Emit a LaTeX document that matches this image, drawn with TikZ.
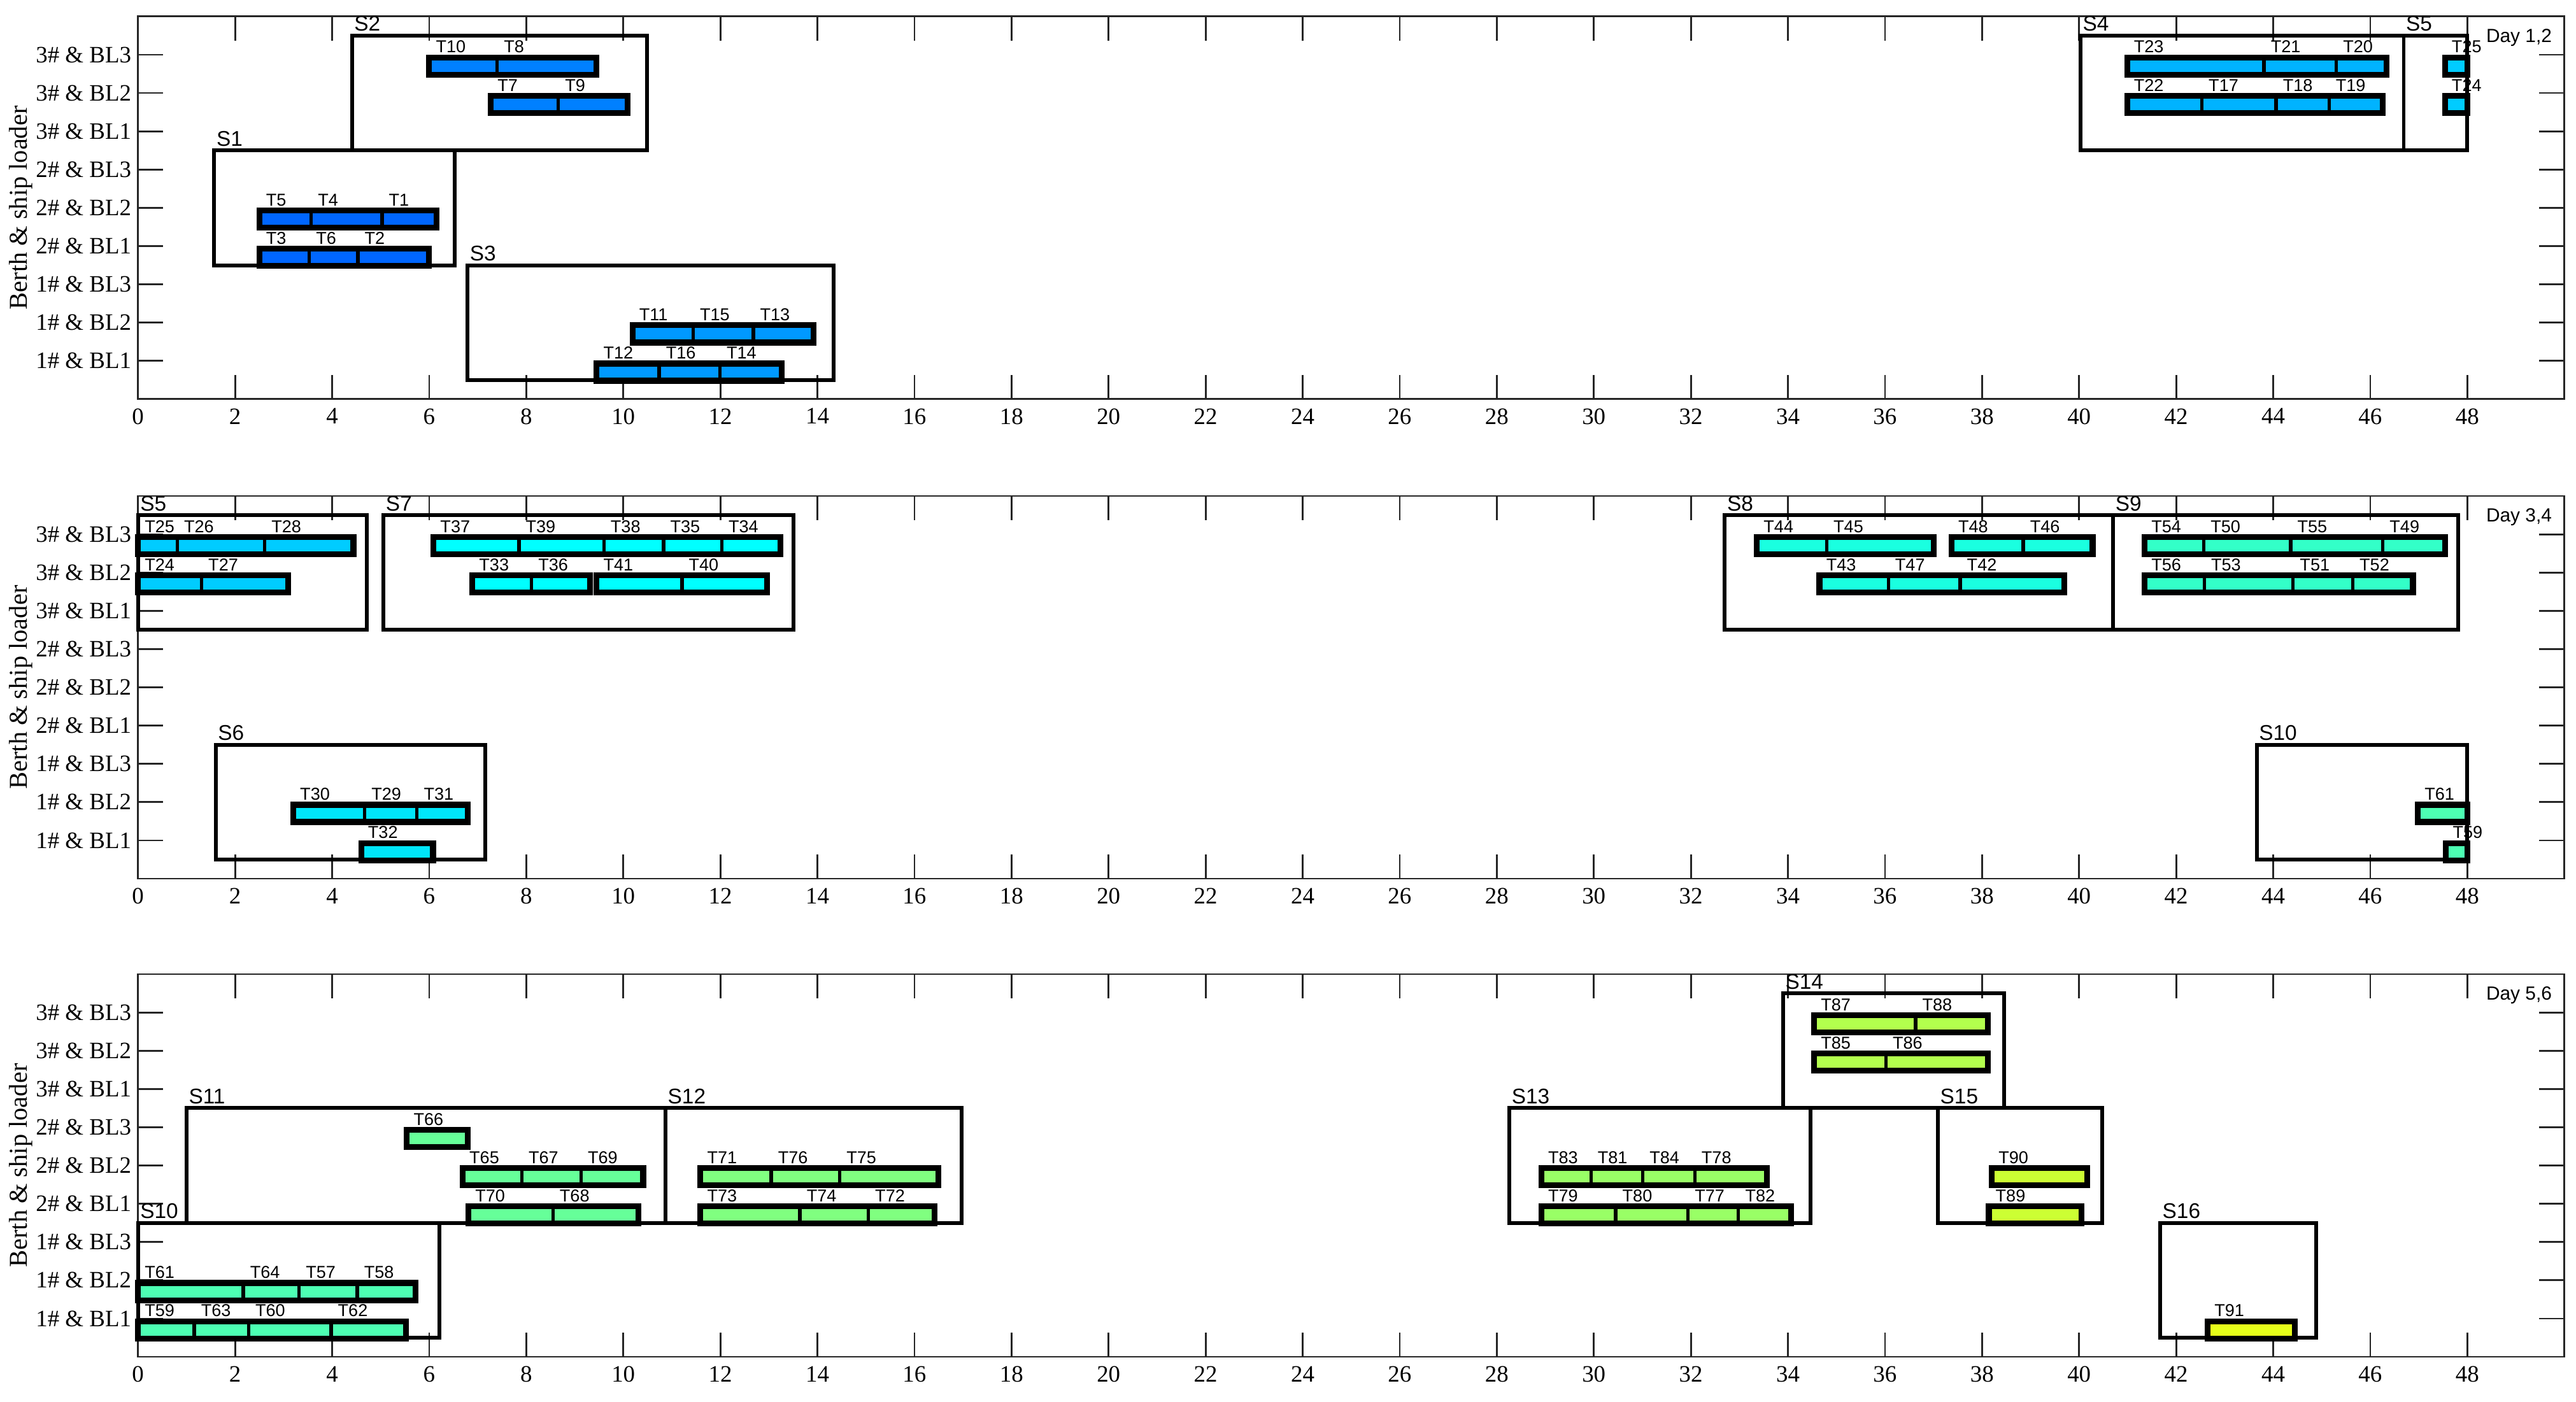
\documentclass[tikz,border=0pt]{standalone}
\usepackage{fontspec}
\setmainfont{Liberation Serif}
\newfontfamily\arialf{Liberation Sans}
\definecolor{cS1}{RGB}{0,102,255}
\definecolor{cS2}{RGB}{0,128,255}
\definecolor{cS3}{RGB}{0,153,255}
\definecolor{cS4}{RGB}{0,179,255}
\definecolor{cS5}{RGB}{0,204,255}
\definecolor{cS6}{RGB}{0,230,250}
\definecolor{cS7}{RGB}{0,255,255}
\definecolor{cS8}{RGB}{26,255,224}
\definecolor{cS9}{RGB}{51,255,200}
\definecolor{cS10}{RGB}{77,255,179}
\definecolor{cS11}{RGB}{102,255,153}
\definecolor{cS12}{RGB}{128,255,128}
\definecolor{cS13}{RGB}{153,255,102}
\definecolor{cS14}{RGB}{179,255,77}
\definecolor{cS15}{RGB}{204,255,51}
\definecolor{cS16}{RGB}{230,255,26}
\definecolor{axc}{RGB}{38,38,38}
\colorlet{cur}{cS1}
\newcommand\setc[1]{\colorlet{cur}{#1}}
\newcommand\tk[4]{\draw[task] (#1,{#3-0.52}) rectangle (#2,{#3-0.07}); \node[tlab] at (#1,#3) {#4};}
\newcommand\grp[3]{\draw[grp] (#1,{#3-0.52}) rectangle (#2,{#3-0.07});}
\newcommand\stg[5]{\draw[stage] (#1,#2) rectangle (#3,#4); \node[slab] at (#1,#4) {#5};}
\newcommand\pnlaxes[1]{%
  \draw[axl] (0,0) rectangle (50,10);
  \foreach \k in {0,2,...,48}{
    \draw[axl] (\k,0) -- (\k,0.63);
    \draw[axl] (\k,10) -- (\k,9.37);
    \node[xtl] at (\k,0) {\k};
  }
  \foreach \r/\t in {1/1\# \& BL1,2/1\# \& BL2,3/1\# \& BL3,4/2\# \& BL1,5/2\# \& BL2,6/2\# \& BL3,7/3\# \& BL1,8/3\# \& BL2,9/3\# \& BL3}{
    \draw[axl] (0,\r) -- (0.52,\r);
    \draw[axl] (50,\r) -- (49.48,\r);
    \node[ytl] at (0,\r) {\t};
  }
  \node[ylab] at (-2.42,5) {Berth \& ship loader};
  \node[dlab] at (49.75,9.33) {#1};
}
\tikzset{
  axl/.style={draw=axc,line width=0.8pt},
  task/.style={draw=black,line width=1.5pt,fill=cur},
  grp/.style={draw=black,line width=2.6pt},
  stage/.style={draw=black,line width=1.7pt},
  tlab/.style={anchor=base west,inner sep=0pt,xshift=0.1cm,yshift=0.03cm,font=\arialf\fontsize{7.7}{8}\selectfont},
  slab/.style={anchor=base west,inner sep=0pt,xshift=0.03cm,yshift=0.07cm,font=\arialf\fontsize{9.5}{10}\selectfont},
  dlab/.style={anchor=base east,inner sep=0pt,font=\arialf\fontsize{8.5}{9}\selectfont},
  xtl/.style={anchor=north,inner sep=0pt,yshift=-0.14cm,font=\fontsize{10.5}{11}\selectfont},
  ytl/.style={anchor=east,inner sep=0pt,xshift=-0.1cm,font=\fontsize{10.5}{11}\selectfont},
  ylab/.style={rotate=90,inner sep=0pt,font=\fontsize{11.5}{12}\selectfont},
}
\begin{document}
\begin{tikzpicture}
\useasboundingbox[fill=white] (0,0) rectangle (40.45,22.01);
% ---------------- Panel 1
\begin{scope}[shift={(2.167,15.741)},x=0.762cm,y=0.601cm]
\pnlaxes{Day 1,2}
\stg{1.57}{3.5}{6.52}{6.5}{S1}
\stg{4.41}{6.5}{10.49}{9.5}{S2}
\stg{6.79}{0.5}{14.33}{3.5}{S3}
\stg{40.03}{6.5}{46.69}{9.5}{S4}
\stg{46.69}{6.5}{48}{9.5}{S5}
\setc{cS1}
\tk{2.5}{3.57}{5}{T5}\tk{3.57}{5.03}{5}{T4}\tk{5.03}{6.15}{5}{T1}\grp{2.5}{6.15}{5}
\tk{2.5}{3.53}{4}{T3}\tk{3.53}{4.53}{4}{T6}\tk{4.53}{6.0}{4}{T2}\grp{2.5}{6.0}{4}
\setc{cS2}
\tk{6.0}{7.4}{9}{T10}\tk{7.4}{9.45}{9}{T8}\grp{6.0}{9.45}{9}
\tk{7.27}{8.66}{8}{T7}\tk{8.66}{10.09}{8}{T9}\grp{7.27}{10.09}{8}
\setc{cS3}
\tk{10.19}{11.44}{2}{T11}\tk{11.44}{12.68}{2}{T15}\tk{12.68}{13.92}{2}{T13}\grp{10.19}{13.92}{2}
\tk{9.45}{10.74}{1}{T12}\tk{10.74}{11.99}{1}{T16}\tk{11.99}{13.27}{1}{T14}\grp{9.45}{13.27}{1}
\setc{cS4}
\tk{40.99}{43.81}{9}{T23}\tk{43.81}{45.3}{9}{T21}\tk{45.3}{46.34}{9}{T20}\grp{40.99}{46.34}{9}
\tk{40.99}{42.53}{8}{T22}\tk{42.53}{44.06}{8}{T17}\tk{44.06}{45.15}{8}{T18}\tk{45.15}{46.26}{8}{T19}\grp{40.99}{46.26}{8}
\setc{cS5}
\tk{47.54}{48}{9}{T25}\grp{47.54}{48}{9}
\tk{47.54}{48}{8}{T24}\grp{47.54}{48}{8}
\end{scope}
% ---------------- Panel 2
\begin{scope}[shift={(2.167,8.21)},x=0.762cm,y=0.601cm]
\pnlaxes{Day 3,4}
\stg{0}{6.5}{4.71}{9.5}{S5}
\stg{5.06}{6.5}{13.51}{9.5}{S7}
\stg{1.60}{0.5}{7.15}{3.5}{S6}
\stg{32.70}{6.5}{40.70}{9.5}{S8}
\stg{40.70}{6.5}{47.81}{9.5}{S9}
\stg{43.66}{0.5}{48}{3.5}{S10}
\setc{cS5}
\tk{0}{0.81}{9}{T25}\tk{0.81}{2.61}{9}{T26}\tk{2.61}{4.44}{9}{T28}\grp{0}{4.44}{9}
\tk{0}{1.31}{8}{T24}\tk{1.31}{3.09}{8}{T27}\grp{0}{3.09}{8}
\setc{cS7}
\tk{6.09}{7.85}{9}{T37}\tk{7.85}{9.60}{9}{T39}\tk{9.60}{10.83}{9}{T38}\tk{10.83}{12.03}{9}{T35}\tk{12.03}{13.24}{9}{T34}\grp{6.09}{13.24}{9}
\tk{6.89}{8.11}{8}{T33}\tk{8.11}{9.32}{8}{T36}\grp{6.89}{9.32}{8}
\tk{9.45}{11.21}{8}{T41}\tk{11.21}{12.96}{8}{T40}\grp{9.45}{12.96}{8}
\setc{cS6}
\tk{3.20}{4.67}{2}{T30}\tk{4.67}{5.75}{2}{T29}\tk{5.75}{6.80}{2}{T31}\grp{3.20}{6.80}{2}
\tk{4.60}{6.08}{1}{T32}\grp{4.60}{6.08}{1}
\setc{cS8}
\tk{33.36}{34.80}{9}{T44}\tk{34.80}{37.0}{9}{T45}\grp{33.36}{37.0}{9}
\tk{37.37}{38.85}{9}{T48}\tk{38.85}{40.28}{9}{T46}\grp{37.37}{40.28}{9}
\tk{34.65}{36.07}{8}{T43}\tk{36.07}{37.55}{8}{T47}\tk{37.55}{39.69}{8}{T42}\grp{34.65}{39.69}{8}
\setc{cS9}
\tk{41.35}{42.57}{9}{T54}\tk{42.57}{44.36}{9}{T50}\tk{44.36}{46.26}{9}{T55}\tk{46.26}{47.54}{9}{T49}\grp{41.35}{47.54}{9}
\tk{41.35}{42.58}{8}{T56}\tk{42.58}{44.41}{8}{T53}\tk{44.41}{45.64}{8}{T51}\tk{45.64}{46.88}{8}{T52}\grp{41.35}{46.88}{8}
\setc{cS10}
\tk{46.98}{48}{2}{T61}\grp{46.98}{48}{2}
\tk{47.56}{48}{1}{T59}\grp{47.56}{48}{1}
\end{scope}
% ---------------- Panel 3
\begin{scope}[shift={(2.167,0.70)},x=0.762cm,y=0.601cm]
\pnlaxes{Day 5,6}
\stg{0}{0.5}{6.21}{3.5}{S10}
\stg{1.00}{3.5}{10.87}{6.5}{S11}
\stg{10.87}{3.5}{16.97}{6.5}{S12}
\stg{28.26}{3.5}{34.46}{6.5}{S13}
\stg{33.90}{6.5}{38.46}{9.5}{S14}
\stg{37.09}{3.5}{40.48}{6.5}{S15}
\stg{41.67}{0.5}{44.89}{3.5}{S16}
\setc{cS10}
\tk{0}{2.17}{2}{T61}\tk{2.17}{3.32}{2}{T64}\tk{3.32}{4.52}{2}{T57}\tk{4.52}{5.72}{2}{T58}\grp{0}{5.72}{2}
\tk{0}{1.16}{1}{T59}\tk{1.16}{2.28}{1}{T63}\tk{2.28}{3.98}{1}{T60}\tk{3.98}{5.52}{1}{T62}\grp{0}{5.52}{1}
\setc{cS11}
\tk{5.54}{6.79}{6}{T66}\grp{5.54}{6.79}{6}
\tk{6.69}{7.91}{5}{T65}\tk{7.91}{9.13}{5}{T67}\tk{9.13}{10.41}{5}{T69}\grp{6.69}{10.41}{5}
\tk{6.81}{8.55}{4}{T70}\tk{8.55}{10.31}{4}{T68}\grp{6.81}{10.31}{4}
\setc{cS12}
\tk{11.59}{13.05}{5}{T71}\tk{13.05}{14.46}{5}{T76}\tk{14.46}{16.49}{5}{T75}\grp{11.59}{16.49}{5}
\tk{11.59}{13.64}{4}{T73}\tk{13.64}{15.05}{4}{T74}\tk{15.05}{16.41}{4}{T72}\grp{11.59}{16.41}{4}
\setc{cS13}
\tk{28.92}{29.94}{5}{T83}\tk{29.94}{31.01}{5}{T81}\tk{31.01}{32.08}{5}{T84}\tk{32.08}{33.57}{5}{T78}\grp{28.92}{33.57}{5}
\tk{28.92}{30.45}{4}{T79}\tk{30.45}{31.94}{4}{T80}\tk{31.94}{32.98}{4}{T77}\tk{32.98}{34.06}{4}{T82}\grp{28.92}{34.06}{4}
\setc{cS14}
\tk{34.54}{36.63}{9}{T87}\tk{36.63}{38.12}{9}{T88}\grp{34.54}{38.12}{9}
\tk{34.54}{36.02}{8}{T85}\tk{36.02}{38.12}{8}{T86}\grp{34.54}{38.12}{8}
\setc{cS15}
\tk{38.20}{40.17}{5}{T90}\grp{38.20}{40.17}{5}
\tk{38.14}{40.05}{4}{T89}\grp{38.14}{40.05}{4}
\setc{cS16}
\tk{42.65}{44.45}{1}{T91}\grp{42.65}{44.45}{1}
\end{scope}
\end{tikzpicture}
\end{document}
